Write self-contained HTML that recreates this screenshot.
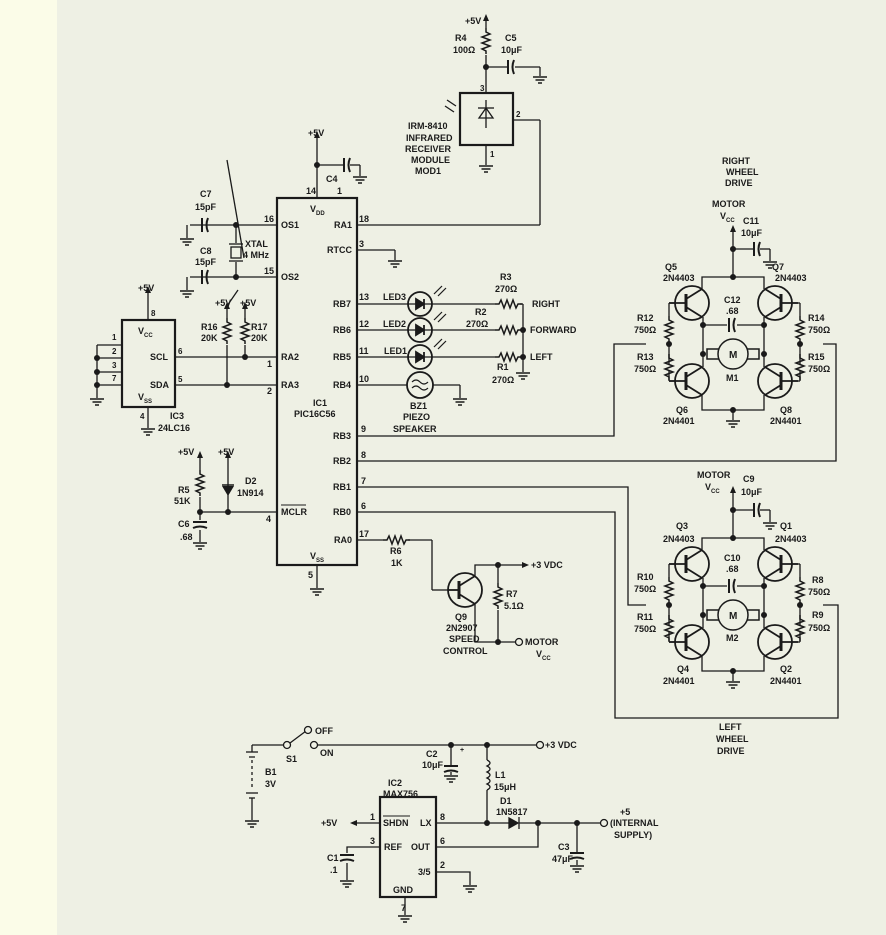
<!DOCTYPE html>
<html><head><meta charset="utf-8"><style>
html,body{margin:0;padding:0;width:886px;height:935px;overflow:hidden;background:#eef0e4}
svg{display:block}
text{font-family:"Liberation Sans",sans-serif;font-size:9px;font-weight:bold;fill:#1a1a1a}
</style></head><body>
<svg width="886" height="935" viewBox="0 0 886 935" xmlns="http://www.w3.org/2000/svg">
<defs>
<g id="gnd" stroke="#1a1a1a" stroke-width="1.5"><line x1="-7" y1="0" x2="7" y2="0"/><line x1="-4.5" y1="3" x2="4.5" y2="3"/><line x1="-2" y1="6" x2="2" y2="6"/></g>
<path id="rv" d="M0,0 l0,4 l4,2 l-8,3 l8,3 l-8,3 l8,3 l-8,3 l4,2 l0,3" fill="none" stroke="#1a1a1a" stroke-width="1.5"/>
<path id="rh" d="M0,0 l4,0 l2,-4 l3,8 l3,-8 l3,8 l3,-8 l3,8 l2,-4 l4,0" fill="none" stroke="#1a1a1a" stroke-width="1.5"/>
<g id="npnL" fill="none" stroke="#1a1a1a" stroke-width="1.8"><circle r="17"/><line x1="-6" y1="-9" x2="-6" y2="9" stroke-width="3"/><line x1="-6" y1="-4" x2="10" y2="-14"/><line x1="-6" y1="4" x2="10" y2="14"/><line x1="-23" y1="0" x2="-6" y2="0"/></g>
<g id="npnR" fill="none" stroke="#1a1a1a" stroke-width="1.8"><circle r="17"/><line x1="6" y1="-9" x2="6" y2="9" stroke-width="3"/><line x1="6" y1="-4" x2="-10" y2="-14"/><line x1="6" y1="4" x2="-10" y2="14"/><line x1="23" y1="0" x2="6" y2="0"/></g>
<g id="ledc" fill="none" stroke="#1a1a1a" stroke-width="1.8"><circle r="12"/><path d="M-4,-5 L4,0 L-4,5Z" fill="#1a1a1a"/><line x1="4" y1="-5" x2="4" y2="5"/><line x1="-12" y1="0" x2="12" y2="0" stroke-width="1.2"/><line x1="14" y1="-10" x2="22" y2="-18" stroke-width="1.2"/><line x1="18" y1="-8" x2="26" y2="-16" stroke-width="1.2"/></g>
<g id="motor" fill="none" stroke="#1a1a1a" stroke-width="1.5"><rect x="-26" y="-5" width="52" height="10" fill="#eef0e4"/><circle r="15" fill="#eef0e4"/><text x="-4" y="4" stroke="none" style="font-size:10px">M</text></g>
<g id="caph" stroke="#1a1a1a" stroke-width="2" fill="none"><line x1="-2" y1="-7" x2="-2" y2="7"/><path d="M4,-7 Q1,0 4,7"/></g>
<g id="capv" stroke="#1a1a1a" stroke-width="2" fill="none"><line x1="-7" y1="-2" x2="7" y2="-2"/><path d="M-7,4 Q0,1 7,4"/></g>
<circle id="dot" r="3" fill="#1a1a1a"/>
</defs>
<rect x="0" y="0" width="57" height="935" fill="#fbfce8"/>

<g stroke="#1a1a1a" stroke-width="1.3" fill="none">
<!-- IC1 -->
<rect x="277" y="198" width="80" height="367" stroke-width="2.2"/>
<line x1="317" y1="135" x2="317" y2="198"/><line x1="317" y1="165" x2="343" y2="165"/><line x1="350" y1="165" x2="360" y2="165"/><line x1="360" y1="165" x2="360" y2="176"/>
<line x1="317" y1="565" x2="317" y2="588"/>
<!-- left pins -->
<line x1="190" y1="225" x2="277" y2="225"/><line x1="190" y1="277" x2="277" y2="277"/>
<line x1="175" y1="357" x2="277" y2="357"/><line x1="175" y1="385" x2="277" y2="385"/>
<line x1="200" y1="512" x2="277" y2="512"/>
<line x1="187" y1="225" x2="187" y2="238"/><line x1="187" y1="277" x2="187" y2="290"/>
<line x1="236" y1="225" x2="236" y2="243"/><line x1="236" y1="262" x2="236" y2="277"/>
<rect x="231" y="247" width="10" height="11"/><line x1="229" y1="244" x2="243" y2="244"/><line x1="229" y1="261" x2="243" y2="261"/>
<line x1="227" y1="160" x2="244" y2="258"/><line x1="238" y1="290" x2="227" y2="306"/>
<!-- R16 R17 -->
<line x1="227" y1="305" x2="227" y2="318"/><line x1="227" y1="345" x2="227" y2="385"/>
<line x1="245" y1="305" x2="245" y2="318"/><line x1="245" y1="345" x2="245" y2="357"/>
<!-- IC3 -->
<rect x="122" y="320" width="53" height="87" stroke-width="2.2"/>
<line x1="148" y1="290" x2="148" y2="320"/><line x1="148" y1="407" x2="148" y2="428"/>
<line x1="97" y1="345" x2="122" y2="345"/><line x1="97" y1="358" x2="122" y2="358"/><line x1="97" y1="372" x2="122" y2="372"/><line x1="97" y1="385" x2="122" y2="385"/>
<line x1="97" y1="345" x2="97" y2="398"/>
<!-- R5 D2 C6 -->
<line x1="200" y1="455" x2="200" y2="470"/><line x1="200" y1="497" x2="200" y2="520"/><line x1="200" y1="530" x2="200" y2="542"/>
<line x1="228" y1="455" x2="228" y2="512"/>
<!-- right pins -->
<line x1="357" y1="225" x2="540" y2="225"/><line x1="540" y1="225" x2="540" y2="120"/><line x1="540" y1="120" x2="513" y2="120"/>
<line x1="357" y1="250" x2="395" y2="250"/><line x1="395" y1="250" x2="395" y2="260"/>
<line x1="357" y1="304" x2="408" y2="304"/><line x1="432" y1="304" x2="495" y2="304"/><line x1="520" y1="304" x2="523" y2="304"/>
<line x1="357" y1="330" x2="408" y2="330"/><line x1="432" y1="330" x2="495" y2="330"/><line x1="520" y1="330" x2="523" y2="330"/>
<line x1="357" y1="357" x2="408" y2="357"/><line x1="432" y1="357" x2="495" y2="357"/><line x1="520" y1="357" x2="523" y2="357"/>
<line x1="523" y1="304" x2="523" y2="372"/>
<line x1="357" y1="385" x2="407" y2="385"/><line x1="433" y1="385" x2="460" y2="385"/><line x1="460" y1="385" x2="460" y2="398"/>
<path d="M357,436 H614 V344 H646"/>
<path d="M357,461 H836 V344 H823"/>
<path d="M357,487 H628 V605 H646"/>
<path d="M357,512 H615 V718 H838 V605 H823"/>
<!-- RA0 / Q9 -->
<line x1="357" y1="540" x2="383" y2="540"/><line x1="408" y1="540" x2="432" y2="540"/><line x1="432" y1="540" x2="432" y2="590"/><line x1="432" y1="590" x2="448" y2="590"/>
<path d="M475,576 V565 H522"/><path d="M475,604 V642 H515"/>
<line x1="498" y1="565" x2="498" y2="583"/><line x1="498" y1="610" x2="498" y2="642"/>
<!-- IR module -->
<rect x="460" y="93" width="53" height="52" stroke-width="2.2"/>
<line x1="486" y1="18" x2="486" y2="28"/><line x1="486" y1="55" x2="486" y2="93"/>
<line x1="486" y1="67" x2="507" y2="67"/><line x1="515" y1="67" x2="540" y2="67"/><line x1="540" y1="67" x2="540" y2="76"/>
<line x1="486" y1="145" x2="486" y2="165"/>
<line x1="478" y1="108" x2="494" y2="108"/><path d="M479,118 L493,118 L486,108Z"/><line x1="486" y1="100" x2="486" y2="128"/>
<line x1="447" y1="100" x2="456" y2="106"/><line x1="445" y1="106" x2="454" y2="112"/>
<!-- bottom power -->
<line x1="252" y1="745" x2="284" y2="745"/><line x1="252" y1="745" x2="252" y2="752"/>
<line x1="290" y1="743" x2="306" y2="731"/>
<line x1="318" y1="745" x2="536" y2="745"/>
<line x1="246" y1="752" x2="258" y2="752"/><line x1="249" y1="757" x2="255" y2="757"/>
<line x1="252" y1="760" x2="252" y2="790" stroke-dasharray="3,3"/>
<line x1="246" y1="793" x2="258" y2="793"/><line x1="249" y1="798" x2="255" y2="798"/><line x1="252" y1="798" x2="252" y2="820"/>
<line x1="451" y1="745" x2="451" y2="765"/><line x1="451" y1="772" x2="451" y2="775"/>
<line x1="487" y1="745" x2="487" y2="760"/><path d="M487,760 q6,3 0,6 q6,3 0,6 q6,3 0,6 q6,3 0,6 q6,3 0,6"/><line x1="487" y1="790" x2="487" y2="823"/>
<rect x="380" y="797" width="56" height="100" stroke-width="2.2"/>
<line x1="436" y1="823" x2="509" y2="823"/><line x1="519" y1="823" x2="600" y2="823"/>
<path d="M509,818 L509,828 L518,823Z" fill="#1a1a1a"/><line x1="519" y1="817" x2="519" y2="829"/>
<path d="M436,847 H538 V823"/>
<path d="M436,872 H470 V885"/>
<line x1="405" y1="897" x2="405" y2="915"/>
<line x1="356" y1="823" x2="380" y2="823"/>
<path d="M380,847 H347 V853"/><line x1="347" y1="863" x2="347" y2="880"/>
<line x1="577" y1="823" x2="577" y2="852"/><line x1="577" y1="860" x2="577" y2="865"/>
</g>
<!-- filled arrows -->
<g fill="#1a1a1a">
<path d="M317,131 l-3,7 h6Z"/><path d="M148,286 l-3,7 h6Z"/><path d="M227,302 l-3,7 h6Z"/><path d="M245,302 l-3,7 h6Z"/>
<path d="M200,451 l-3,7 h6Z"/><path d="M228,451 l-3,7 h6Z"/><path d="M486,14 l-3,7 h6Z"/>
<path d="M733,225 l-3,7 h6Z"/><path d="M733,486 l-3,7 h6Z"/>
<path d="M529,565 l-7,-3 v6Z"/><path d="M350,823 l7,-3 v6Z"/>
<path d="M222,486 h12 l-6,10Z"/>
</g>
<g stroke="#1a1a1a" stroke-width="1.5"><line x1="222" y1="485" x2="234" y2="485"/></g>
<!-- resistors -->
<use href="#rv" x="227" y="318"/><use href="#rv" x="245" y="318"/><use href="#rv" x="200" y="470"/><use href="#rv" x="486" y="28"/><use href="#rv" x="498" y="583"/>
<use href="#rh" x="495" y="304"/><use href="#rh" x="495" y="330"/><use href="#rh" x="495" y="357"/><use href="#rh" x="383" y="540"/>
<!-- caps -->
<use href="#caph" x="346" y="165"/><use href="#caph" x="204" y="225"/><use href="#caph" x="204" y="277"/><use href="#caph" x="510" y="67"/>
<use href="#capv" x="200" y="524"/><use href="#capv" x="451" y="768"/><use href="#capv" x="347" y="857"/><use href="#capv" x="577" y="855"/>
<!-- grounds -->
<use href="#gnd" x="360" y="177"/><use href="#gnd" x="187" y="239"/><use href="#gnd" x="187" y="291"/><use href="#gnd" x="395" y="261"/>
<use href="#gnd" x="97" y="399"/><use href="#gnd" x="148" y="429"/><use href="#gnd" x="200" y="543"/><use href="#gnd" x="317" y="589"/>
<use href="#gnd" x="460" y="399"/><use href="#gnd" x="523" y="373"/><use href="#gnd" x="540" y="77"/><use href="#gnd" x="486" y="166"/>
<use href="#gnd" x="252" y="821"/><use href="#gnd" x="451" y="776"/><use href="#gnd" x="347" y="881"/><use href="#gnd" x="470" y="886"/><use href="#gnd" x="405" y="916"/><use href="#gnd" x="577" y="866"/>
<!-- LEDs buzzer Q9 -->
<use href="#ledc" x="420" y="304"/><use href="#ledc" x="420" y="330"/><use href="#ledc" x="420" y="357"/>
<circle cx="420" cy="385" r="13" fill="none" stroke="#1a1a1a" stroke-width="1.8"/>
<path d="M412,382 q4,-4 8,0 t8,0 M412,388 q4,-4 8,0 t8,0" fill="none" stroke="#1a1a1a" stroke-width="1.2"/>
<g transform="translate(465,590)"><g fill="none" stroke="#1a1a1a" stroke-width="1.8"><circle r="17"/><line x1="-6" y1="-9" x2="-6" y2="9" stroke-width="3"/><line x1="-6" y1="-4" x2="10" y2="-14"/><line x1="-6" y1="4" x2="10" y2="14"/><line x1="-17" y1="0" x2="-6" y2="0"/></g></g>
<!-- open circles -->
<g fill="#eef0e4" stroke="#1a1a1a" stroke-width="1.3">
<circle cx="519" cy="642" r="3.5"/><circle cx="287" cy="745" r="3.5"/><circle cx="308" cy="730" r="3.5"/><circle cx="314" cy="745" r="3.5"/><circle cx="540" cy="745" r="3.5"/><circle cx="604" cy="823" r="3.5"/>
</g>
<!-- dots -->
<use href="#dot" x="317" y="165"/><use href="#dot" x="236" y="225"/><use href="#dot" x="236" y="277"/><use href="#dot" x="245" y="357"/><use href="#dot" x="227" y="385"/>
<use href="#dot" x="97" y="358"/><use href="#dot" x="97" y="372"/><use href="#dot" x="97" y="385"/><use href="#dot" x="200" y="512"/><use href="#dot" x="228" y="512"/>
<use href="#dot" x="523" y="330"/><use href="#dot" x="523" y="357"/><use href="#dot" x="486" y="67"/><use href="#dot" x="498" y="565"/><use href="#dot" x="498" y="642"/>
<use href="#dot" x="451" y="745"/><use href="#dot" x="487" y="745"/><use href="#dot" x="487" y="823"/><use href="#dot" x="538" y="823"/><use href="#dot" x="577" y="823"/>

<!-- H-bridges -->
<g id="hb">
<g stroke="#1a1a1a" stroke-width="1.3" fill="none">
<line x1="733" y1="229" x2="733" y2="277"/><line x1="733" y1="249" x2="753" y2="249"/><line x1="760" y1="249" x2="770" y2="249"/><line x1="770" y1="249" x2="770" y2="261"/>
<path d="M702,289 V277 H764 V289"/>
<line x1="703" y1="317" x2="703" y2="367"/><line x1="764" y1="317" x2="764" y2="367"/>
<line x1="703" y1="325" x2="727" y2="325"/><line x1="737" y1="325" x2="764" y2="325"/>
<path d="M702,395 V410 H764 V395"/><line x1="733" y1="410" x2="733" y2="420"/>
<path d="M669,303 V316 M669,343 V365 M669,381 V370"/><line x1="669" y1="303" x2="675" y2="303"/><line x1="669" y1="381" x2="675" y2="381"/>
<path d="M800,303 V316 M800,343 V365 M800,381 V370"/><line x1="800" y1="303" x2="792" y2="303"/><line x1="800" y1="381" x2="792" y2="381"/>
</g>
<use href="#caph" x="756" y="249"/><use href="#caph" x="731" y="325"/><use href="#gnd" x="770" y="262"/><use href="#gnd" x="733" y="421"/>
<use href="#rv" x="669" y="316"/><use href="#rv" x="669" y="354"/><use href="#rv" x="800" y="316"/><use href="#rv" x="800" y="354"/>
<use href="#npnL" x="692" y="303"/><use href="#npnR" x="775" y="303"/><use href="#npnL" x="692" y="381"/><use href="#npnR" x="775" y="381"/>
<use href="#motor" x="733" y="354"/>
<use href="#dot" x="733" y="249"/><use href="#dot" x="733" y="277"/><use href="#dot" x="703" y="325"/><use href="#dot" x="764" y="325"/><use href="#dot" x="703" y="354"/><use href="#dot" x="764" y="354"/><use href="#dot" x="733" y="410"/><use href="#dot" x="669" y="344"/><use href="#dot" x="800" y="344"/>
</g>
<use href="#hb" x="0" y="261"/>

<!-- labels -->
<text x="465" y="24">+5V</text><text x="455" y="41">R4</text><text x="453" y="53">100Ω</text>
<text x="505" y="41">C5</text><text x="501" y="53">10μF</text><text x="480" y="91" style="font-size:8px">3</text><text x="516" y="117" style="font-size:8px">2</text><text x="490" y="157" style="font-size:8px">1</text>
<text x="408" y="129">IRM-8410</text><text x="406" y="141">INFRARED</text><text x="405" y="152">RECEIVER</text><text x="411" y="163">MODULE</text><text x="415" y="174">MOD1</text>
<text x="308" y="136">+5V</text><text x="326" y="182">C4</text><text x="306" y="194">14</text><text x="337" y="194">1</text>
<text x="310" y="212">V<tspan style="font-size:6px" dy="3">DD</tspan></text>
<text x="200" y="197">C7</text><text x="195" y="210">15pF</text><text x="200" y="254">C8</text><text x="195" y="265">15pF</text>
<text x="245" y="247">XTAL</text><text x="243" y="258">4 MHz</text>
<text x="264" y="222">16</text><text x="281" y="228">OS1</text><text x="264" y="274">15</text><text x="281" y="280">OS2</text>
<text x="334" y="228">RA1</text><text x="359" y="222">18</text><text x="327" y="253">RTCC</text><text x="359" y="247">3</text>
<text x="215" y="306">+5V</text><text x="240" y="306">+5V</text>
<text x="201" y="330">R16</text><text x="201" y="341">20K</text><text x="251" y="330">R17</text><text x="251" y="341">20K</text>
<text x="281" y="360">RA2</text><text x="281" y="388">RA3</text><text x="267" y="367">1</text><text x="267" y="394">2</text>
<text x="138" y="291">+5V</text><text x="151" y="316" style="font-size:8px">8</text>
<text x="112" y="340" style="font-size:8px">1</text><text x="112" y="354" style="font-size:8px">2</text><text x="112" y="368" style="font-size:8px">3</text><text x="112" y="381" style="font-size:8px">7</text>
<text x="138" y="334">V<tspan style="font-size:6px" dy="3">CC</tspan></text><text x="150" y="360">SCL</text><text x="150" y="388">SDA</text>
<text x="138" y="400">V<tspan style="font-size:6px" dy="3">SS</tspan></text><text x="178" y="354" style="font-size:8px">6</text><text x="178" y="382" style="font-size:8px">5</text>
<text x="140" y="419" style="font-size:8px">4</text><text x="170" y="419">IC3</text><text x="158" y="431">24LC16</text>
<text x="313" y="406">IC1</text><text x="294" y="417">PIC16C56</text>
<text x="333" y="307">RB7</text><text x="333" y="333">RB6</text><text x="333" y="360">RB5</text><text x="333" y="388">RB4</text>
<text x="333" y="439">RB3</text><text x="333" y="464">RB2</text><text x="333" y="490">RB1</text><text x="333" y="515">RB0</text><text x="334" y="543">RA0</text>
<text x="359" y="300">13</text><text x="359" y="327">12</text><text x="359" y="354">11</text><text x="359" y="382">10</text>
<text x="361" y="432">9</text><text x="361" y="458">8</text><text x="361" y="484">7</text><text x="361" y="509">6</text><text x="359" y="537">17</text>
<text x="383" y="300">LED3</text><text x="383" y="327">LED2</text><text x="384" y="354">LED1</text>
<text x="410" y="409">BZ1</text><text x="403" y="420">PIEZO</text><text x="393" y="432">SPEAKER</text>
<text x="500" y="280">R3</text><text x="495" y="292">270Ω</text><text x="475" y="315">R2</text><text x="466" y="327">270Ω</text>
<text x="497" y="370">R1</text><text x="492" y="383">270Ω</text>
<text x="532" y="307">RIGHT</text><text x="530" y="333">FORWARD</text><text x="530" y="360">LEFT</text>
<text x="178" y="455">+5V</text><text x="218" y="455">+5V</text><text x="178" y="493">R5</text><text x="174" y="504">51K</text>
<text x="245" y="484">D2</text><text x="237" y="496">1N914</text><text x="178" y="527">C6</text><text x="180" y="540">.68</text>
<text x="266" y="522">4</text><text x="281" y="515">MCLR</text><line x1="281" y1="505" x2="306" y2="505" stroke="#1a1a1a" stroke-width="1"/>
<text x="310" y="559">V<tspan style="font-size:6px" dy="3">SS</tspan></text><text x="308" y="578">5</text>
<text x="390" y="554">R6</text><text x="391" y="566">1K</text>
<text x="531" y="568">+3 VDC</text><text x="506" y="597">R7</text><text x="504" y="609">5.1Ω</text>
<text x="455" y="620">Q9</text><text x="446" y="631">2N2907</text><text x="449" y="642">SPEED</text><text x="443" y="654">CONTROL</text>
<text x="525" y="645">MOTOR</text><text x="536" y="657">V<tspan style="font-size:6px" dy="3">CC</tspan></text>
<text x="722" y="164">RIGHT</text><text x="726" y="175">WHEEL</text><text x="725" y="186">DRIVE</text>
<text x="712" y="207">MOTOR</text><text x="720" y="219">V<tspan style="font-size:6px" dy="3">CC</tspan></text><text x="743" y="224">C11</text><text x="741" y="236">10μF</text>
<text x="665" y="270">Q5</text><text x="663" y="281">2N4403</text><text x="772" y="270">Q7</text><text x="775" y="281">2N4403</text>
<text x="724" y="303">C12</text><text x="726" y="314">.68</text>
<text x="637" y="321">R12</text><text x="634" y="333">750Ω</text><text x="808" y="321">R14</text><text x="808" y="333">750Ω</text>
<text x="637" y="360">R13</text><text x="634" y="372">750Ω</text><text x="808" y="360">R15</text><text x="808" y="372">750Ω</text>
<text x="726" y="381">M1</text>
<text x="676" y="413">Q6</text><text x="663" y="424">2N4401</text><text x="780" y="413">Q8</text><text x="770" y="424">2N4401</text>
<text x="697" y="478">MOTOR</text><text x="705" y="490">V<tspan style="font-size:6px" dy="3">CC</tspan></text><text x="743" y="482">C9</text><text x="741" y="495">10μF</text>
<text x="676" y="529">Q3</text><text x="663" y="542">2N4403</text><text x="780" y="529">Q1</text><text x="775" y="542">2N4403</text>
<text x="724" y="561">C10</text><text x="726" y="572">.68</text>
<text x="637" y="580">R10</text><text x="634" y="592">750Ω</text><text x="812" y="583">R8</text><text x="808" y="595">750Ω</text>
<text x="637" y="620">R11</text><text x="634" y="632">750Ω</text><text x="812" y="618">R9</text><text x="808" y="631">750Ω</text>
<text x="726" y="641">M2</text>
<text x="677" y="672">Q4</text><text x="663" y="684">2N4401</text><text x="780" y="672">Q2</text><text x="770" y="684">2N4401</text>
<text x="719" y="730">LEFT</text><text x="716" y="742">WHEEL</text><text x="717" y="754">DRIVE</text>
<text x="315" y="734">OFF</text><text x="320" y="756">ON</text><text x="286" y="762">S1</text>
<text x="265" y="775">B1</text><text x="265" y="787">3V</text>
<text x="426" y="757">C2</text><text x="422" y="768">10μF</text><text x="460" y="752" style="font-size:7px">+</text>
<text x="545" y="748">+3 VDC</text><text x="495" y="778">L1</text><text x="494" y="790">15μH</text>
<text x="500" y="804">D1</text><text x="496" y="815">1N5817</text>
<text x="388" y="786">IC2</text><text x="383" y="797">MAX756</text>
<text x="321" y="826">+5V</text><text x="370" y="820">1</text><text x="383" y="826">SHDN</text><line x1="383" y1="816" x2="410" y2="816" stroke="#1a1a1a" stroke-width="1"/>
<text x="420" y="826">LX</text><text x="440" y="820">8</text><text x="370" y="844">3</text><text x="384" y="850">REF</text><text x="411" y="850">OUT</text><text x="440" y="844">6</text>
<text x="418" y="875">3/5</text><text x="440" y="868">2</text><text x="393" y="893">GND</text><text x="401" y="911">7</text>
<text x="327" y="861">C1</text><text x="330" y="873">.1</text><text x="558" y="850">C3</text><text x="552" y="862">47μF</text>
<text x="620" y="815">+5</text><text x="610" y="826">(INTERNAL</text><text x="614" y="838">SUPPLY)</text>
</svg>
</body></html>
